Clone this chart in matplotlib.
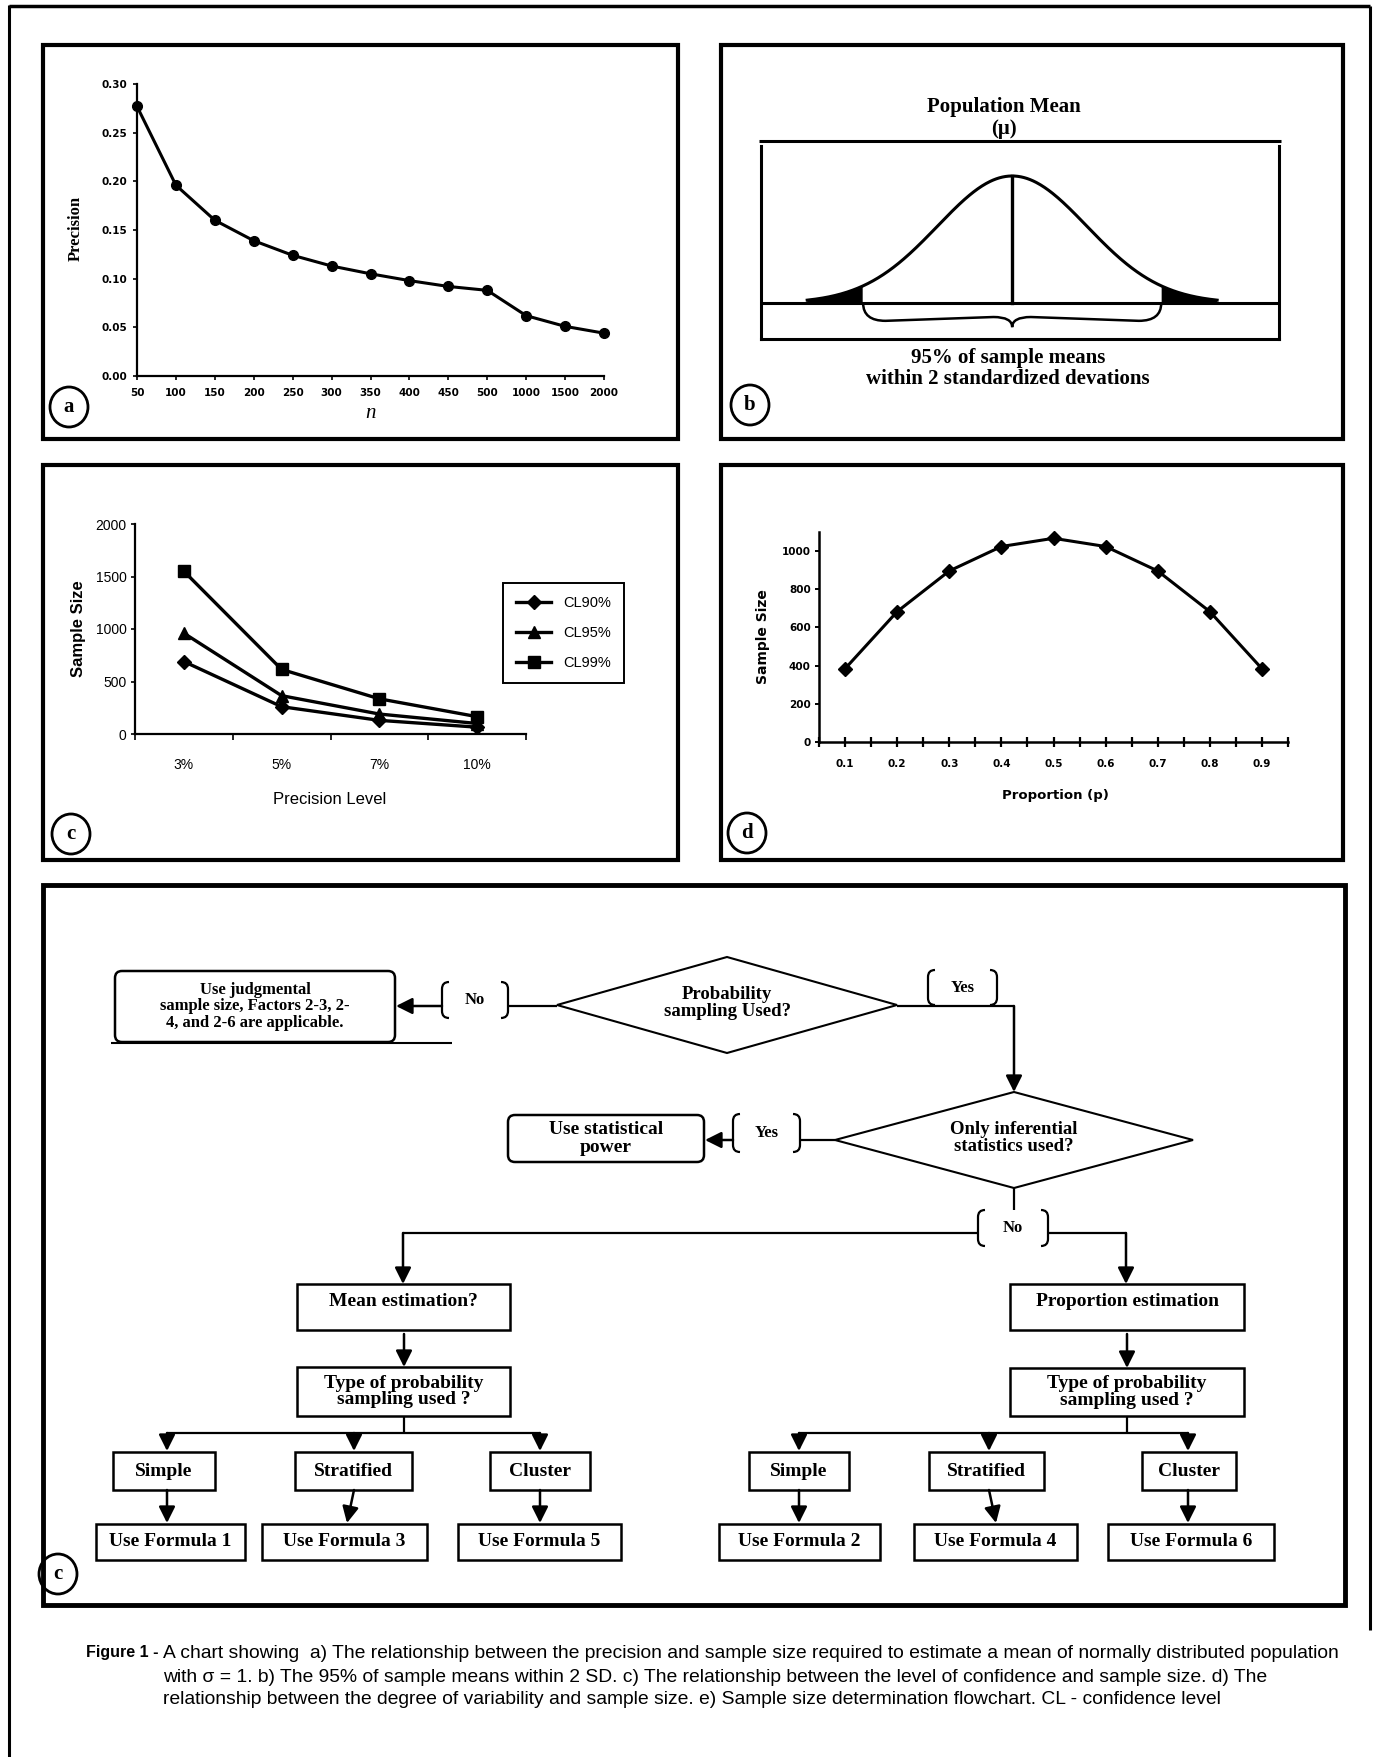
import numpy as np
import matplotlib
matplotlib.use("Agg")
import matplotlib.pyplot as plt
from matplotlib.patches import Ellipse, Rectangle, Polygon, FancyBboxPatch, PathPatch
from matplotlib.path import Path

W, H = 1373, 1757

# ---- data ----
# a) precision vs n
n_labels = ['50', '100', '150', '200', '250', '300', '350', '400', '450', '500', '1000', '1500', '2000']
precision = [0.277, 0.196, 0.160, 0.139, 0.124, 0.113, 0.105, 0.098, 0.092, 0.088, 0.062, 0.051, 0.044]
prec_ticks = [0.00, 0.05, 0.10, 0.15, 0.20, 0.25, 0.30]

# c) sample size vs precision level
precision_levels = ['3%', '5%', '7%', '10%']
cl_names = ['CL90%', 'CL95%', 'CL99%']
cl90 = [690, 260, 130, 65]
cl95 = [960, 365, 190, 100]
cl99 = [1550, 615, 335, 165]
c_yticks = [0, 500, 1000, 1500, 2000]

# d) sample size vs proportion
proportion = [0.1, 0.2, 0.3, 0.4, 0.5, 0.6, 0.7, 0.8, 0.9]
prop_labels = ['0.1', '0.2', '0.3', '0.4', '0.5', '0.6', '0.7', '0.8', '0.9']
size_by_p = [384, 683, 896, 1024, 1067, 1024, 896, 683, 384]
d_yticks = [0, 200, 400, 600, 800, 1000]

# b) sampling distribution of the mean (standardized)
mu, sigma = 0.0, 1.0

caption = [
    "A chart showing  a) The relationship between the precision and sample size required to estimate a mean of normally distributed population",
    "with \u03c3 = 1. b) The 95% of sample means within 2 SD. c) The relationship between the level of confidence and sample size. d) The",
    "relationship between the degree of variability and sample size. e) Sample size determination flowchart. CL - confidence level",
]

SERIF = 'Liberation Serif'
SANS = 'DejaVu Sans'

fig = plt.figure(figsize=(W / 100, H / 100), dpi=100)
fig.patch.set_facecolor('white')

# overlay in pixel coordinates for frames, labels and the flowchart
over = fig.add_axes([0, 0, 1, 1])
over.set_xlim(0, W)
over.set_ylim(H, 0)
over.axis('off')


def px_axes(l, t, r, b):
    ax = fig.add_axes([l / W, 1 - b / H, (r - l) / W, (b - t) / H])
    ax.patch.set_alpha(0)
    return ax


def line(xs, ys, lw=1.6):
    over.plot(xs, ys, color='k', lw=lw, solid_capstyle='butt')


def arrow(x0, y0, x1, y1):
    over.annotate('', xy=(x1, y1), xytext=(x0, y0),
                  arrowprops=dict(arrowstyle='-|>,head_length=0.7,head_width=0.35',
                                  color='k', lw=1.8, mutation_scale=14, shrinkA=0, shrinkB=0))


def box(x0, y0, x1, y1, text=None, ty=None, size=14, lw=1.8):
    over.add_patch(Rectangle((x0, y0), x1 - x0, y1 - y0, fill=False, ec='k', lw=lw))
    if text:
        over.text((x0 + x1) / 2, ty if ty else (y0 + y1) / 2, text, ha='center', va='center',
                  family=SERIF, weight='bold', fontsize=size, linespacing=1.0)


def rbox(x0, y0, x1, y1, text, size=14):
    over.add_patch(FancyBboxPatch((x0, y0), x1 - x0, y1 - y0, boxstyle='round,pad=0,rounding_size=7',
                                  fill=False, ec='k', lw=1.8))
    over.text((x0 + x1) / 2, (y0 + y1) / 2, text, ha='center', va='center',
              family=SERIF, weight='bold', fontsize=size, linespacing=1.05)


def diamond(cx, cy, hw, hh, text, size=13.5):
    over.add_patch(Polygon([(cx - hw, cy), (cx, cy - hh), (cx + hw, cy), (cx, cy + hh)],
                           closed=True, fill=False, ec='k', lw=1.5))
    over.text(cx, cy - 2, text, ha='center', va='center', family=SERIF, weight='bold',
              fontsize=size, linespacing=1.05)


def bracket(x0, y0, x1, y1, text, size=12):
    r = 7
    for xa, s in ((x0, 1), (x1, -1)):
        verts = [(xa + s * r, y0), (xa, y0), (xa, y0 + r), (xa, y1 - r), (xa, y1), (xa + s * r, y1)]
        codes = [Path.MOVETO, Path.CURVE3, Path.CURVE3, Path.LINETO, Path.CURVE3, Path.CURVE3]
        over.add_patch(PathPatch(Path(verts, codes), fill=False, ec='k', lw=1.6))
    over.text((x0 + x1) / 2, (y0 + y1) / 2, text, ha='center', va='center',
              family=SERIF, weight='bold', fontsize=size)


def circle_tag(cx, cy, letter):
    over.add_patch(Ellipse((cx, cy), 38, 40, fill=False, ec='k', lw=2))
    over.text(cx, cy, letter, ha='center', va='center', family=SERIF, weight='bold', fontsize=15)


# ---- frames ----
line([9, 9], [5, H], lw=2.2)
line([9, 1370], [6, 6], lw=2.5)
line([1370, 1370], [6, 1630], lw=2.2)
for (x0, y0, x1, y1) in [(43, 45, 678, 439), (721, 45, 1343, 439),
                         (43, 465, 678, 860), (721, 465, 1343, 860)]:
    over.add_patch(Rectangle((x0, y0), x1 - x0, y1 - y0, fill=False, ec='k', lw=3))
over.add_patch(Rectangle((43, 885), 1345 - 43, 1605 - 885, fill=False, ec='k', lw=3.5))

# ---- panel a ----
ax = px_axes(137, 84, 604, 376)
xa = np.arange(len(precision))
ax.plot(xa, precision, color='k', lw=2.2, marker='o', ms=7, clip_on=False)
ax.set_xlim(0, len(precision) - 1)
ax.set_ylim(0, 0.30)
ax.set_xticks(xa)
ax.set_xticklabels(n_labels)
ax.set_yticks(prec_ticks)
ax.set_yticklabels(['%.2f' % v for v in prec_ticks])
for s in ['top', 'right']:
    ax.spines[s].set_visible(False)
for s in ['left', 'bottom']:
    ax.spines[s].set_linewidth(1.6)
ax.tick_params(direction='out', length=3, width=1.2, pad=4)
ax.tick_params(axis='x', pad=6)
for lab in ax.get_xticklabels() + ax.get_yticklabels():
    lab.set_family(SANS)
    lab.set_weight('bold')
    lab.set_fontsize(7.5)
over.text(76, 228, 'Precision', rotation=90, ha='center', va='center',
          family=SERIF, weight='bold', fontsize=12)
over.text(371, 414, 'n', ha='center', va='center', family=SERIF, style='italic', fontsize=15)
circle_tag(69, 407, 'a')

# ---- panel b ----
ax = px_axes(761, 146, 1279, 339)
ax.set_xlim(-3.37, 3.58)
ax.set_ylim(-0.283, 1.236)
ax.set_xticks([])
ax.set_yticks([])
ax.spines['top'].set_visible(False)
for s in ['left', 'right', 'bottom']:
    ax.spines[s].set_linewidth(2.2)
z = np.linspace(mu - 2.75 * sigma, mu + 2.75 * sigma, 400)
dens = np.exp(-0.5 * ((z - mu) / sigma) ** 2)
ax.plot(z, dens, color='k', lw=2.2)
ax.fill_between(z, 0, dens, where=np.abs(z - mu) >= 2 * sigma, color='k', lw=0)
ax.axhline(0, color='k', lw=2.2)
ax.plot([mu, mu], [0, 1], color='k', lw=2.4)
bv = [(-2, 0.0), (-2, -0.14), (-1.7, -0.14), (-0.25, -0.11), (0, -0.11), (0, -0.19),
      (0, -0.11), (0.25, -0.11), (1.7, -0.14), (2, -0.14), (2, 0.0)]
bc = [Path.MOVETO, Path.CURVE3, Path.CURVE3, Path.LINETO, Path.CURVE3, Path.CURVE3,
      Path.CURVE3, Path.CURVE3, Path.LINETO, Path.CURVE3, Path.CURVE3]
ax.add_patch(PathPatch(Path(bv, bc), fill=False, ec='k', lw=1.8))
line([759, 1281], [141, 141], lw=2.2)
over.text(1004, 107, 'Population Mean', ha='center', va='center', family=SERIF, weight='bold', fontsize=15)
over.text(1004, 129, '(\u03bc)', ha='center', va='center', family=SERIF, weight='bold', fontsize=15)
over.text(1008, 358, '95% of sample means', ha='center', va='center', family=SERIF, weight='bold', fontsize=15)
over.text(1008, 379, 'within 2 standardized devations', ha='center', va='center', family=SERIF,
          weight='bold', fontsize=15)
circle_tag(750, 405, 'b')

# ---- panel c ----
ax = px_axes(135, 524, 526, 734)
xc = np.arange(len(precision_levels))
markers = ['D', '^', 's']
sizes = [7, 9, 8]
for vals, name, m, ms in zip([cl90, cl95, cl99], cl_names, markers, sizes):
    ax.plot(xc, vals, color='k', lw=2.4, marker=m, ms=ms, label=name)
ax.set_xlim(-0.5, len(precision_levels) - 0.5)
ax.set_ylim(0, 2000)
ax.set_xticks(np.arange(-0.5, len(precision_levels), 1))
ax.set_xticklabels([])
ax.set_xticks(xc, minor=True)
ax.set_xticklabels(precision_levels, minor=True)
ax.tick_params(axis='x', which='minor', length=0, pad=17)
ax.tick_params(axis='x', which='major', direction='out', length=4, width=1.2)
ax.set_yticks(c_yticks)
ax.tick_params(axis='y', direction='out', length=3, width=1.2, pad=3)
for s in ['top', 'right']:
    ax.spines[s].set_visible(False)
for s in ['left', 'bottom']:
    ax.spines[s].set_linewidth(1.6)
for lab in ax.get_xticklabels(minor=True) + ax.get_yticklabels():
    lab.set_family('Liberation Sans')
    lab.set_fontsize(10)
leg = ax.legend(loc='upper left', bbox_to_anchor=(503 / W, 1 - 583 / H), bbox_transform=fig.transFigure,
                frameon=True, fancybox=False, edgecolor='k', framealpha=1,
                handlelength=2.4, labelspacing=1.1, borderpad=0.9, borderaxespad=0,
                prop={'family': 'Liberation Sans', 'size': 10.5})
leg.get_frame().set_linewidth(1.4)
over.text(78, 629, 'Sample Size', rotation=90, ha='center', va='center',
          family='Liberation Sans', weight='bold', fontsize=12)
over.text(330, 800, 'Precision Level', ha='center', va='center', family='Liberation Sans', fontsize=12)
circle_tag(71, 834, 'c')

# ---- panel d ----
ax = px_axes(819, 532, 1288, 742)
ax.plot(proportion, size_by_p, color='k', lw=2.2, marker='D', ms=7, clip_on=False)
ax.set_xlim(0.05, 0.95)
ax.set_ylim(0, 1100)
ax.set_xticks(proportion)
ax.set_xticklabels(prop_labels)
ax.set_xticks(np.arange(0.05, 0.96, 0.1), minor=True)
ax.tick_params(axis='x', which='both', direction='inout', length=7, width=1.6, pad=9)
ax.set_yticks(d_yticks)
ax.tick_params(axis='y', direction='out', length=3, width=1.4, pad=3)
for s in ['top', 'right']:
    ax.spines[s].set_visible(False)
for s in ['left', 'bottom']:
    ax.spines[s].set_linewidth(1.8)
for lab in ax.get_xticklabels() + ax.get_yticklabels():
    lab.set_family(SANS)
    lab.set_weight('bold')
    lab.set_fontsize(7.5)
over.text(763, 637, 'Sample Size', rotation=90, ha='center', va='center',
          family=SANS, weight='bold', fontsize=10)
over.text(1055, 796, 'Proportion (p)', ha='center', va='center', family=SANS, weight='bold', fontsize=9.5)
circle_tag(747, 833, 'd')

# ---- panel e: flowchart ----
rbox(115, 971, 395, 1042, 'Use judgmental\nsample size, Factors 2-3, 2-\n4, and 2-6 are applicable.', size=12)
line([111, 452], [1043, 1043], lw=1.5)
bracket(442, 982, 508, 1018, 'No')
line([557, 508], [1006, 1006])
arrow(442, 1006, 396, 1006)
diamond(727, 1005, 170, 48, 'Probability\nsampling Used?')
bracket(928, 970, 997, 1005, 'Yes')
line([897, 1014], [1006, 1006])
arrow(1014, 1006, 1014, 1092)
diamond(1014, 1140, 179, 48, 'Only inferential\nstatistics used?')
bracket(733, 1114, 800, 1152, 'Yes')
line([835, 800], [1140, 1140])
arrow(733, 1140, 705, 1140)
rbox(508, 1115, 704, 1162, 'Use statistical\npower')
line([1014, 1014], [1188, 1210])
bracket(978, 1210, 1048, 1246, 'No')
line([403, 978], [1233, 1233])
line([1048, 1126], [1233, 1233])
arrow(403, 1233, 403, 1284)
arrow(1126, 1233, 1126, 1284)

left_branch = [(113, 215, 'Simple', 167, 167, 96, 245, 'Use Formula 1'),
               (295, 412, 'Stratified', 354, 347, 262, 427, 'Use Formula 3'),
               (490, 590, 'Cluster', 540, 540, 458, 621, 'Use Formula 5')]
right_branch = [(749, 849, 'Simple', 799, 799, 719, 880, 'Use Formula 2'),
                (929, 1044, 'Stratified', 989, 996, 914, 1077, 'Use Formula 4'),
                (1142, 1236, 'Cluster', 1188, 1188, 1108, 1274, 'Use Formula 6')]

for (bx0, bx1, head, cx, type_top, branch) in [(297, 510, 'Mean estimation?', 404, 1367, left_branch),
                                               (1010, 1244, 'Proportion estimation', 1127, 1368, right_branch)]:
    box(bx0, 1284, bx1, 1330, head, ty=1301)
    arrow(cx, 1334, cx, type_top)
    box(bx0, type_top, bx1, 1416, 'Type of probability\nsampling used ?')
    line([cx, cx], [1416, 1433])
    line([branch[0][3], branch[-1][3]], [1433, 1433])
    for (sx0, sx1, lab, ax0, ax1, fx0, fx1, flab) in branch:
        arrow(ax0, 1433, ax0, 1451)
        box(sx0, 1452, sx1, 1490, lab)
        arrow(ax0, 1490, ax1, 1523)
        box(fx0, 1524, fx1, 1560, flab)

circle_tag(58, 1574, 'c')

# ---- caption ----
cap_family = ['Liberation Sans Narrow', 'Liberation Sans', 'DejaVu Sans']
renderer = fig.canvas.get_renderer()
over.text(86, 1653, 'Figure 1 -', ha='left', va='center', family=cap_family, weight='bold', fontsize=11.5)
t1 = over.text(163, 1653, caption[0], ha='left', va='center', family=cap_family, fontsize=13)
w1 = t1.get_window_extent(renderer).width
cap_size = 13 * 1176 / w1
t1.set_fontsize(cap_size)
over.text(163, 1677, caption[1], ha='left', va='center', family=cap_family, fontsize=cap_size)
over.text(163, 1700, caption[2], ha='left', va='center', family=cap_family, fontsize=cap_size)

fig.savefig('out.png', dpi=100, facecolor='white')
